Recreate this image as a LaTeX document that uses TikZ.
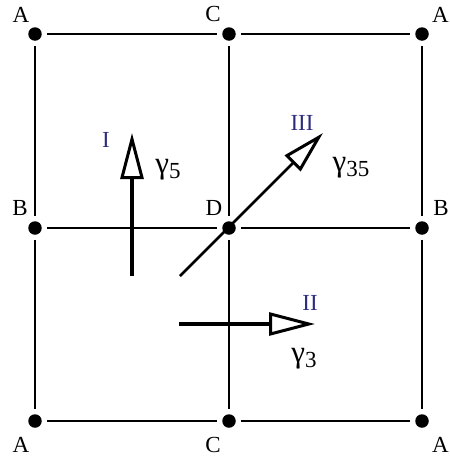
\documentclass[tikz,border=0pt]{standalone}
\usepackage{fontspec}
\setmainfont{Liberation Serif}
\usetikzlibrary{arrows.meta}
\definecolor{navy}{RGB}{45,45,125}
\newcommand{\gsym}[1]{{\fontsize{31}{31}\selectfont γ}\raisebox{-5pt}{\fontsize{23}{23}\selectfont #1}}
\begin{document}
\begin{tikzpicture}[x=1pt,y=-1pt,
  dot/.style={circle,fill=black,inner sep=0pt,minimum size=13.5pt,outer sep=5pt},
  gridline/.style={line width=1.6pt},
  lab/.style={inner sep=0pt,font=\fontsize{23}{23}\selectfont},
  num/.style={inner sep=0pt,text=navy,font=\fontsize{23}{23}\selectfont},
  gam/.style={inner sep=0pt},
  thickarrow/.style={line width=3.6pt,-{Triangle[open,length=46pt,width=23pt,line width=3pt]}},
  thinarrow/.style={line width=2.6pt,-{Triangle[open,length=43pt,width=22pt,line width=3pt]}}
]
\useasboundingbox (0,0) rectangle (450,461);
% dots
\node[dot] (A1) at (35,34) {};
\node[dot] (C1) at (229,34) {};
\node[dot] (A2) at (422,34) {};
\node[dot] (B1) at (35,228) {};
\node[dot] (D)  at (229,228) {};
\node[dot] (B2) at (422,228) {};
\node[dot] (A3) at (35,421) {};
\node[dot] (C2) at (229,421) {};
\node[dot] (A4) at (422,421) {};
% grid lines
\draw[gridline] (A1) -- (C1);
\draw[gridline] (C1) -- (A2);
\draw[gridline] (B1) -- (D);
\draw[gridline] (D) -- (B2);
\draw[gridline] (A3) -- (C2);
\draw[gridline] (C2) -- (A4);
\draw[gridline] (A1) -- (B1);
\draw[gridline] (B1) -- (A3);
\draw[gridline] (C1) -- (D);
\draw[gridline] (D) -- (C2);
\draw[gridline] (A2) -- (B2);
\draw[gridline] (B2) -- (A4);
% point labels
\node[lab] (lA1) at (21,15) {A};
\node[lab] (lC1) at (213,14) {C};
\node[lab, anchor=east] (lA2) at (449,15) {A};
\node[lab] (lB1) at (20,208) {B};
\node[lab] (lD)  at (214,208) {D};
\node[lab, anchor=east] (lB2) at (449,208) {B};
\node[lab] (lA3) at (21,445) {A};
\node[lab] (lC2) at (213,445) {C};
\node[lab, anchor=east] (lA4) at (449,445) {A};
% arrows
\coordinate (Is) at (132,276);
\coordinate (Ie) at (132,133);
\coordinate (IIs) at (179,324);
\coordinate (IIe) at (315,324);
\coordinate (IIIs) at (180,276);
\coordinate (IIIe) at (323,133);
\draw[thickarrow] (Is) -- (Ie);
\draw[thickarrow] (IIs) -- (IIe);
\draw[thinarrow] (IIIs) -- (IIIe);
% region labels
\node[num] (nI) at (106,140) {I};
\node[num] (nIII) at (302,123) {III};
\node[num] (nII) at (310,303) {II};
\node[gam] (g5) at (168,170) {\gsym{5}};
\node[gam] (g35) at (351,168) {\gsym{35}};
\node[gam] (g3) at (304,359) {\gsym{3}};
\end{tikzpicture}
\end{document}
